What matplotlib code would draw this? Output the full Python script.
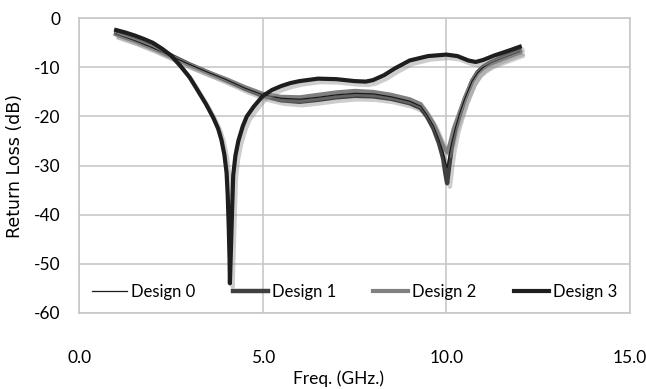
import numpy as np
import matplotlib
matplotlib.use("Agg")
import matplotlib.pyplot as plt
import matplotlib.patheffects as pe

# values (freq in GHz, return loss in dB)
f3 = [1.0, 1.25, 1.5, 1.75, 2.0, 2.25, 2.5, 2.74, 3.0, 3.19, 3.45, 3.65, 3.78, 3.87, 3.95,
      4.01, 4.04, 4.07, 4.09, 4.10, 4.12, 4.14, 4.16, 4.19, 4.25, 4.33, 4.45, 4.56, 4.75,
      5.0, 5.25, 5.5, 5.75, 6.0, 6.5, 7.0, 7.5, 7.8, 8.0, 8.3, 8.6, 9.0, 9.5, 10.0, 10.3,
      10.6, 10.8, 11.0, 11.3, 11.7, 12.0]
d3 = [-2.4, -2.9, -3.5, -4.2, -5.0, -6.2, -7.6, -9.6, -12.0, -14.3, -17.5, -20.3, -22.5,
      -24.8, -27.8, -31.5, -36.0, -43.0, -49.0, -54.0, -49.0, -44.0, -39.0, -32.0, -28.0,
      -25.0, -22.0, -20.0, -18.0, -15.8, -14.6, -13.8, -13.2, -12.8, -12.3, -12.4, -12.8,
      -12.9, -12.6, -11.6, -10.2, -8.6, -7.7, -7.4, -7.7, -8.6, -8.9, -8.5, -7.6, -6.6,
      -5.8]

f1 = [1.0, 1.5, 2.0, 2.5, 3.0, 3.5, 4.0, 4.5, 5.0, 5.5, 6.0, 6.5, 7.0, 7.5, 8.0, 8.5, 9.0,
      9.3, 9.47, 9.65, 9.8, 9.91, 9.97, 10.02, 10.07, 10.14, 10.25, 10.37, 10.5, 10.7,
      10.85, 11.0, 11.2, 11.5, 11.75, 12.0]
d1 = [-3.1, -4.4, -5.9, -7.6, -9.4, -11.0, -12.6, -14.3, -15.8, -16.7, -17.0, -16.6, -16.1,
      -15.8, -15.9, -16.4, -17.3, -18.3, -20.0, -22.5, -25.5, -28.5, -31.5, -33.6, -30.5,
      -26.5, -22.5, -19.5, -16.5, -12.8, -11.0, -9.9, -9.0, -8.0, -7.3, -6.6]
d0 = [-3.2, -4.5, -6.0, -7.7, -9.4, -11.0, -12.5, -14.2, -15.6, -16.3, -16.5, -16.1, -15.6,
      -15.3, -15.4, -16.0, -16.9, -17.9, -19.7, -22.0, -24.8, -27.3, -29.2, -30.4, -28.2,
      -25.5, -22.2, -19.2, -16.4, -12.8, -11.1, -10.0, -9.1, -8.2, -7.5, -6.8]
f2 = [1.0, 1.5, 2.0, 2.5, 3.0, 3.5, 4.0, 4.5, 5.0, 5.5, 6.0, 6.5, 7.0, 7.5, 8.0, 8.5, 9.0,
      9.3, 9.47, 9.65, 9.8, 9.93, 10.02, 10.1, 10.2, 10.37, 10.5, 10.7, 10.85, 11.0, 11.2,
      11.5, 11.75, 12.0]
d2 = [-3.3, -4.6, -6.1, -7.8, -9.5, -11.0, -12.4, -14.0, -15.4, -16.0, -16.1, -15.6, -15.1,
      -14.8, -15.0, -15.6, -16.5, -17.5, -19.3, -21.5, -24.0, -26.3, -27.3, -25.5, -22.5,
      -19.0, -16.3, -12.9, -11.2, -10.2, -9.3, -8.4, -7.7, -7.0]

xticks = [0.0, 5.0, 10.0, 15.0]
yticks = [0, -10, -20, -30, -40, -50, -60]

tick_font = ['Lato', 'DejaVu Sans']

fig = plt.figure(figsize=(6.46, 3.89), dpi=100)
ax = fig.add_axes([0.123, 0.196, 0.852, 0.757])

shadow = [pe.SimpleLineShadow(offset=(2, -2.5), shadow_color='#909090', alpha=0.45), pe.Normal()]

ax.plot(f1, d1, color='#404040', lw=3.2, label='Design 1', path_effects=shadow, zorder=3,
        solid_joinstyle='round')
ax.plot(f2, d2, color='#808080', lw=3.0, label='Design 2', path_effects=shadow, zorder=4,
        solid_joinstyle='round')
ax.plot(f1, d0, color='#1a1a1a', lw=0.9, label='Design 0', zorder=5)
ax.plot(f3, d3, color='#1e1e1e', lw=3.0, label='Design 3', path_effects=shadow, zorder=6,
        solid_joinstyle='round')

ax.set_xlim(0, 15)
ax.set_ylim(-60, 0)
ax.set_xticks(xticks)
ax.set_yticks(yticks)
ax.set_xticklabels(['%.1f' % v for v in xticks], family=tick_font, fontsize=12.5)
ax.set_yticklabels([str(v) for v in yticks], family=tick_font, fontsize=12.5)
ax.tick_params(length=0)
ax.tick_params(axis='x', pad=27)
ax.tick_params(axis='y', pad=14)
ax.grid(True, color='#c8c8c8', lw=1.2)
ax.set_axisbelow(True)
for s in ax.spines.values():
    s.set_color('#c8c8c8')
    s.set_linewidth(1.2)

ax.set_xlabel('Freq. (GHz.)', family=tick_font, fontsize=12.5)
ax.xaxis.set_label_coords(0.47, -0.195)
ax.set_ylabel('Return Loss (dB)', family='DejaVu Sans', fontsize=12.5)
ax.yaxis.set_label_coords(-0.1, 0.5)

h, l = ax.get_legend_handles_labels()
order = [2, 0, 1, 3]
leg = ax.legend([h[i] for i in order], [l[i] for i in order], loc='lower left',
                bbox_to_anchor=(0.0, 0.0, 1.0, 0.1), ncol=4, mode='expand', frameon=False,
                prop={'family': tick_font, 'size': 12}, handlelength=2.1, handletextpad=0.25,
                borderaxespad=0.35)
for lh in leg.get_lines():
    lh.set_path_effects([])

fig.savefig('out.png', dpi=100)
